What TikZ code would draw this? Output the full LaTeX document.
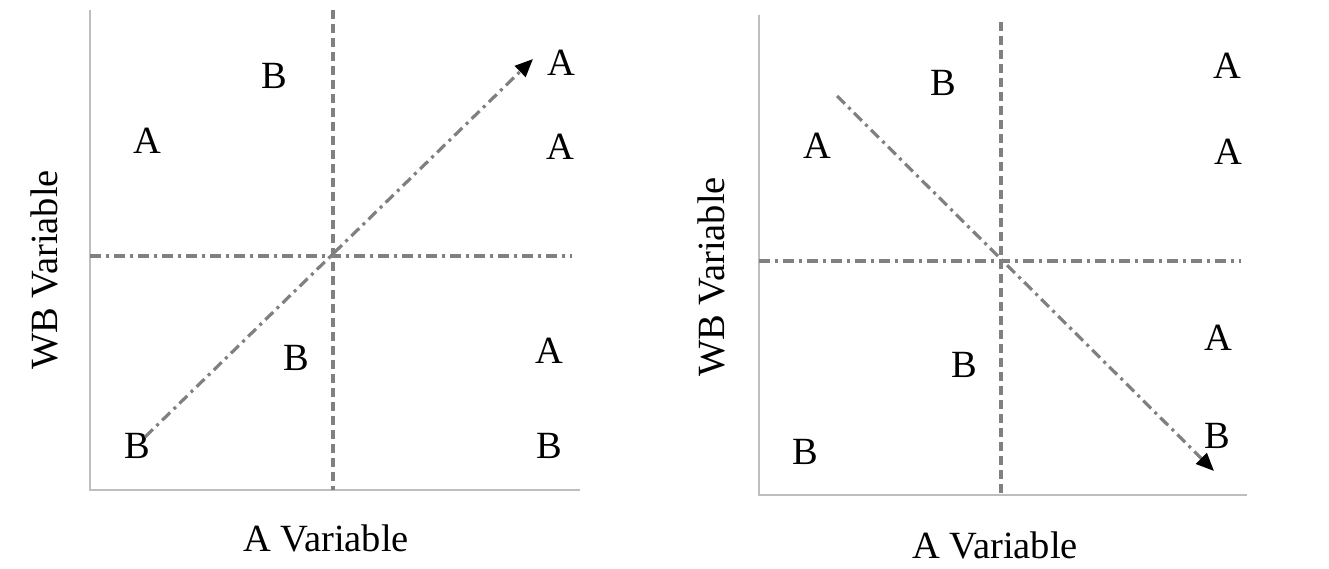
\documentclass[tikz,border=0pt]{standalone}
\usepackage{fontspec}
\setmainfont{Liberation Serif}
\usepackage{tikz}
\usetikzlibrary{arrows.meta, calc}
\definecolor{axisgray}{RGB}{190,190,190}
\definecolor{linegray}{RGB}{128,128,128}

\begin{document}
\begin{tikzpicture}[
        x=1pt, y=-1pt,
        axis/.style={draw=axisgray, line width=1.6pt},
        splitv/.style={draw=linegray, line width=3.2pt, dash pattern=on 9pt off 5pt},
        splith/.style={draw=linegray, line width=3.2pt, dash pattern=on 11pt off 5pt on 3pt off 5pt},
        trend/.style={draw=linegray, line width=3.2pt, dash pattern=on 11pt off 5pt on 3pt off 5pt,
            -{Triangle[black, length=18pt, width=15pt]}},
        lbl/.style={font=\fontsize{38.5}{42}\selectfont, inner sep=0pt},
        ttl/.style={font=\fontsize{38.5}{42}\selectfont, inner sep=0pt}
    ]
        \useasboundingbox (0,0) rectangle (1329,569);

        % Left panel: axes
        \coordinate (ltop) at (90,10);
        \coordinate (lorg) at (90,490);
        \coordinate (lend) at (580,490);
        \draw[axis] (ltop) -- (lorg) -- (lend);

        % Left panel: quadrant lines
        \coordinate (lvt) at (333,10);
        \coordinate (lvb) at (333,490);
        \coordinate (lhl) at (90,256);
        \coordinate (lhr) at (572,256);
        \draw[splitv] (lvt) -- (lvb);
        \draw[splith] (lhl) -- (lhr);

        % Left panel: points
        \foreach \t/\x/\y/\n in {B/274/76/lb1, A/147/141/la1, A/561/63/la2, A/560/147/la3,
                                 B/296/358/lb2, A/549/351/la4, B/137/446/lb3, B/549/446/lb4}
            \node[lbl] (\n) at (\x,\y) {\t};

        % Left panel: trend
        \coordinate (ls) at (145,437);
        \coordinate (le) at (533,59);
        \draw[trend] (ls) -- (le);

        % Left panel: axis titles
        \node[ttl] (lxt) at (326,538) {A Variable};
        \node[ttl, rotate=90] (lyt) at (44,270) {WB Variable};

        % Right panel: axes
        \coordinate (rtop) at (759,15);
        \coordinate (rorg) at (759,495);
        \coordinate (rend) at (1247,495);
        \draw[axis] (rtop) -- (rorg) -- (rend);

        % Right panel: quadrant lines
        \coordinate (rvt) at (1001,22);
        \coordinate (rvb) at (1001,497);
        \coordinate (rhl) at (759,261);
        \coordinate (rhr) at (1241,261);
        \draw[splitv] (rvt) -- (rvb);
        \draw[splith] (rhl) -- (rhr);

        % Right panel: points
        \foreach \t/\x/\y/\n in {B/943/83/rb1, A/1227/66/ra1, A/817/146/ra2, A/1228/152/ra3,
                                 A/1218/338/ra4, B/964/365/rb2, B/1217/436/rb3, B/805/452/rb4}
            \node[lbl] (\n) at (\x,\y) {\t};

        % Right panel: trend
        \coordinate (rs) at (837,96);
        \coordinate (re) at (1214,471);
        \draw[trend] (rs) -- (re);

        % Right panel: axis titles
        \node[ttl] (rxt) at (995,545) {A Variable};
        \node[ttl, rotate=90] (ryt) at (711,277) {WB Variable};
    \end{tikzpicture}
\end{document}
